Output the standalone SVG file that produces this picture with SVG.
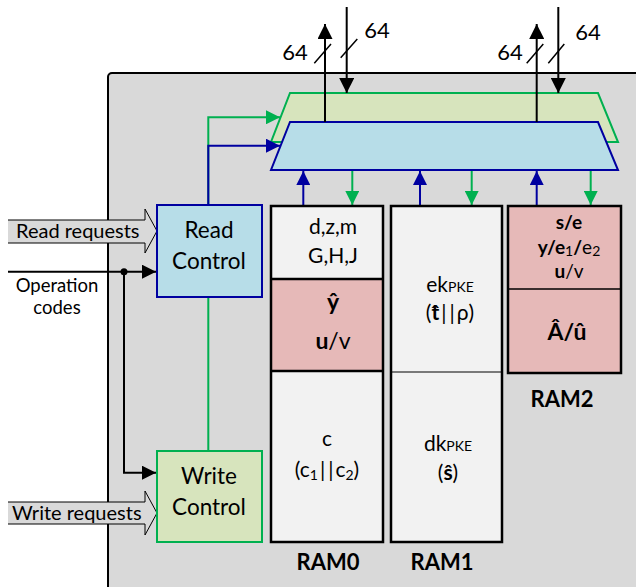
<svg xmlns="http://www.w3.org/2000/svg" width="636" height="587" viewBox="0 0 636 587">
<style>
text{font-family:Lato,"Open Sans","Liberation Sans",sans-serif;fill:#000}
.t{font-size:21px;text-anchor:middle}
.tb{font-size:23px;text-anchor:middle}
.r2{font-size:19px;text-anchor:middle}
.s{font-size:20px}
.o{font-size:18.5px;text-anchor:middle}
.b{font-weight:700}
.lab{font-size:22px;font-weight:700;text-anchor:middle}
.n{font-size:22.5px;text-anchor:middle}
.d{font-size:22px;text-anchor:middle}
.sub{font-size:14px}
.blk{stroke:#000;stroke-width:2;fill:none}
.bl{stroke:#0000A0;stroke-width:2;fill:none}
.gr{stroke:#00B050;stroke-width:2;fill:none}
</style>
<defs>
<marker id="ab" viewBox="0 0 14 14" refX="14" refY="7" markerWidth="14" markerHeight="14" markerUnits="userSpaceOnUse" orient="auto"><path d="M0,0L14,7L0,14Z" fill="#000"/></marker>
<marker id="abl" viewBox="0 0 14 14" refX="14" refY="7" markerWidth="14" markerHeight="14" markerUnits="userSpaceOnUse" orient="auto"><path d="M0,0L14,7L0,14Z" fill="#0000A0"/></marker>
<marker id="agr" viewBox="0 0 14 14" refX="14" refY="7" markerWidth="14" markerHeight="14" markerUnits="userSpaceOnUse" orient="auto"><path d="M0,0L14,7L0,14Z" fill="#00B050"/></marker>
<marker id="abig" viewBox="0 0 15 15" refX="15" refY="7.5" markerWidth="15" markerHeight="15" markerUnits="userSpaceOnUse" orient="auto"><path d="M0,0L15,7.5L0,15Z" fill="#000"/></marker>
</defs>
<rect width="636" height="587" fill="#fff"/>
<rect id="frame" x="108" y="73" width="600" height="600" rx="4" fill="#D9D9D9" stroke="#000" stroke-width="2"/>

<g id="connectors">
<path class="gr" d="M208.3,451V117.3H280" marker-end="url(#agr)"/>
<path class="blk" d="M8,271.7H156" marker-end="url(#ab)"/>
<path class="blk" d="M124,271.7V472.7H156" marker-end="url(#ab)"/>
<circle cx="124" cy="271.7" r="3.5" fill="#000"/>
</g>

<g id="read-requests">
<path d="M8,220H145V209L157,231L145,253V243H8Z" fill="#D9D9D9"/>
<path d="M8,220H145V209L157,231L145,253V243H8" fill="none" stroke="#000" stroke-width="1"/>
<text class="s" x="16" y="238">Read requests</text>
</g>
<g id="write-requests">
<path d="M8,502H145V491L157,513L145,535V524H8Z" fill="#D9D9D9"/>
<path d="M8,502H145V491L157,513L145,535V524H8" fill="none" stroke="#000" stroke-width="1"/>
<text class="s" x="12" y="520">Write requests</text>
</g>
<g id="operation-codes">
<text class="o" x="57" y="292">Operation</text>
<text class="o" x="57" y="314">codes</text>
</g>

<g id="write-buffer">
<polygon points="290,93 598,93 618,142 271,142" fill="#D7E4BD" stroke="#00B050" stroke-width="2"/>
</g>
<g id="read-buffer">
<polygon points="290,122 598,122 618,170 271,170" fill="#B7DDE8" stroke="#0000A0" stroke-width="2"/>
</g>

<g id="read-control">
<rect x="157" y="205" width="105" height="92" fill="#B7DDE8" stroke="#0000A0" stroke-width="2"/>
<text class="n" x="209" y="238">Read</text>
<text class="n" x="209" y="269">Control</text>
</g>
<g id="write-control">
<rect x="157" y="451" width="105" height="91" fill="#D7E4BD" stroke="#00B050" stroke-width="2"/>
<text class="n" x="209" y="484">Write</text>
<text class="n" x="209" y="515">Control</text>
</g>

<g id="connectors-2">
<path class="bl" d="M208.3,205V145.7H280" marker-end="url(#abl)"/>
<path class="blk" d="M325,122V24" marker-end="url(#abig)"/>
<path class="blk" d="M346.7,7V93" marker-end="url(#abig)"/>
<path class="blk" d="M536.7,122V24" marker-end="url(#abig)"/>
<path class="blk" d="M558.3,7V93" marker-end="url(#abig)"/>
<path d="M314.3,63.3L331,44M340.7,57.7L357.3,39M526.7,63.3L543.3,44M548.3,63.3L564.3,44" stroke="#000" stroke-width="1.5" fill="none"/>
<path class="bl" d="M303.3,206V171" marker-end="url(#abl)"/>
<path class="bl" d="M420,206V171" marker-end="url(#abl)"/>
<path class="bl" d="M536.7,206V171" marker-end="url(#abl)"/>
<path class="gr" d="M352.3,171V205" marker-end="url(#agr)"/>
<path class="gr" d="M471.7,171V205" marker-end="url(#agr)"/>
<path class="gr" d="M590.7,171V205" marker-end="url(#agr)"/>
<text class="d" x="295" y="60">64</text>
<text class="d" x="377" y="38">64</text>
<text class="d" x="510" y="60">64</text>
<text class="d" x="588" y="40">64</text>
</g>

<g id="ram0">
<rect x="271" y="206" width="112" height="73" fill="#F2F2F2"/>
<rect x="271" y="279" width="112" height="92" fill="#E6B9B8"/>
<rect x="271" y="371" width="112" height="171" fill="#F2F2F2"/>
<rect x="271" y="206" width="112" height="336" fill="none" stroke="#000" stroke-width="2.5"/>
<path d="M271,279H383M271,371H383" stroke="#000" stroke-width="2.5"/>
<text class="t" x="333" y="234">d,z,m</text>
<text class="t" x="333" y="263">G,H,J</text>
<text class="tb b" x="333" y="310">ŷ</text>
<text class="tb" x="333" y="349"><tspan class="b">u</tspan>/v</text>
<text class="t" x="327" y="446">c</text>
<text class="t" x="327" y="477">(c<tspan class="sub" dy="3">1</tspan><tspan dy="-3" dx="2">|</tspan><tspan dx="3">|</tspan><tspan dx="2">c</tspan><tspan class="sub" dy="3">2</tspan><tspan dy="-3">)</tspan></text>
<text class="lab" x="328" y="570">RAM0</text>
</g>

<g id="ram1">
<rect x="391" y="206" width="111" height="336" fill="#F2F2F2" stroke="#000" stroke-width="2.5"/>
<path d="M391,372H502" stroke="#000" stroke-width="1"/>
<text class="t" x="450" y="292">ek<tspan class="sub">PKE</tspan></text>
<text class="t" x="450" y="320">(<tspan class="b">t̂</tspan><tspan dx="2">|</tspan><tspan dx="3">|</tspan><tspan dx="2">ρ)</tspan></text>
<text class="t" x="448" y="451">dk<tspan class="sub">PKE</tspan></text>
<text class="t" x="448" y="480">(<tspan class="b">ŝ</tspan>)</text>
<text class="lab" x="442" y="570">RAM1</text>
</g>

<g id="ram2">
<rect x="508" y="206" width="113" height="167" fill="#E6B9B8" stroke="#000" stroke-width="2.5"/>
<path d="M508,289H621" stroke="#000" stroke-width="1.5"/>
<text class="r2" x="569" y="229" font-weight="700">s/e</text>
<text class="r2" x="569" y="254"><tspan font-weight="700">y/e</tspan><tspan class="sub" dy="2">1</tspan><tspan font-weight="700" dy="-2">/</tspan>e<tspan class="sub" dy="2">2</tspan></text>
<text class="r2" x="569" y="278"><tspan font-weight="700">u</tspan>/v</text>
<text class="tb b" x="567" y="340">Â/û</text>
<text class="lab" x="562" y="407">RAM2</text>
</g>
</svg>
